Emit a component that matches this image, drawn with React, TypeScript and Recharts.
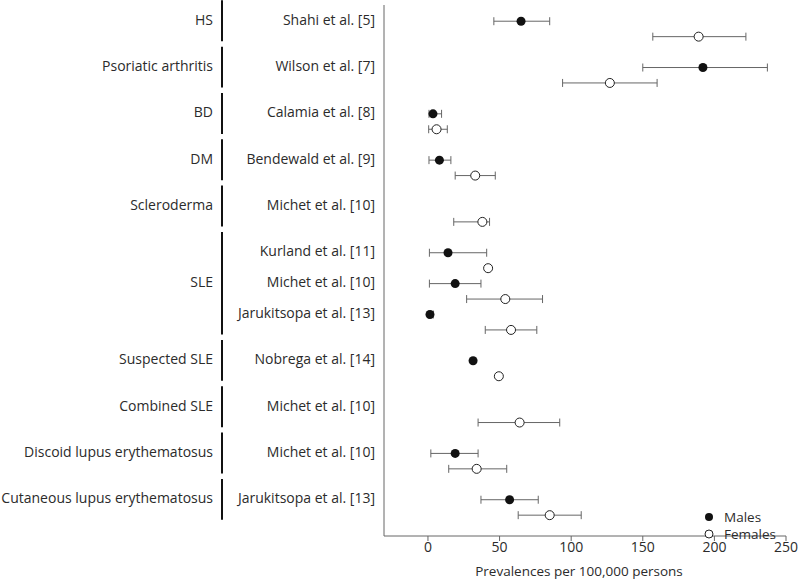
import React from "react";
import { ScatterChart, Scatter, XAxis, YAxis, ErrorBar } from "recharts";

// one entry per study (male row first, female row just below)
const categories = [
  "HS",
  "Psoriatic arthritis",
  "BD",
  "DM",
  "Scleroderma",
  "SLE",
  "SLE",
  "SLE",
  "Suspected SLE",
  "Combined SLE",
  "Discoid lupus erythematosus",
  "Cutaneous lupus erythematosus",
];
const studies = [
  "Shahi et al. [5]",
  "Wilson et al. [7]",
  "Calamia et al. [8]",
  "Bendewald et al. [9]",
  "Michet et al. [10]",
  "Kurland et al. [11]",
  "Michet et al. [10]",
  "Jarukitsopa et al. [13]",
  "Nobrega et al. [14]",
  "Michet et al. [10]",
  "Michet et al. [10]",
  "Jarukitsopa et al. [13]",
];
const maleRows = [0, 3, 6, 9, 12, 15, 17, 19, 22, 25, 28, 31];

const maleValues = [65, 192, 3.5, 8, null, 14, 19, 1.4, 31.5, null, 19, 57];
const maleLow = [46, 150, 0.7, 0.7, null, 1, 1, 0.3, null, null, 2, 37];
const maleHigh = [85, 237, 9.5, 16, null, 41, 37, 3.7, null, null, 35, 77];

const femaleValues = [189, 127, 6, 33, 38, 42, 54, 58, 49.5, 64, 34, 85];
const femaleLow = [157, 94, 0.5, 19, 18, null, 27, 40, null, 35, 14.5, 63];
const femaleHigh = [222, 160, 13.5, 47, 43, null, 80, 76, null, 92, 55, 107];

const xTicks = [0, 50, 100, 150, 200, 250];

const ROW_PX = 531 / 34.4;
const TEXT = "#2b2b2b";
const AXIS = "#666";
const FONT = "'Open Sans', sans-serif";

const build = (vals: (number | null)[], lows: (number | null)[], highs: (number | null)[], shift: number) =>
  vals
    .map((v, i) =>
      v == null
        ? null
        : {
            x: v,
            y: maleRows[i] + shift,
            err: lows[i] != null && highs[i] != null ? [v - (lows[i] as number), (highs[i] as number) - v] : undefined,
          }
    )
    .filter((d) => d != null);

const maleData = build(maleValues, maleLow, maleHigh, 0);
const femaleData = build(femaleValues, femaleLow, femaleHigh, 1);

const StudyTick = (props: any) => {
  const { y, payload } = props;
  const i = maleRows.indexOf(payload.value);
  if (i < 0) return null;
  const cat = categories[i];
  const first = categories.indexOf(cat);
  const last = categories.lastIndexOf(cat);
  const mid = Math.floor((first + last) / 2);
  const top = y - 1.35 * ROW_PX;
  const bottom = y + (maleRows[last] + 1 - maleRows[i] + 0.3) * ROW_PX;
  return (
    <g fontFamily={FONT} fontSize={14} fill={TEXT}>
      <text x={375} y={y - 2} textAnchor="end" dominantBaseline="central">
        {studies[i]}
      </text>
      {i === mid && (
        <text x={213} y={y - 2} textAnchor="end" dominantBaseline="central">
          {cat}
        </text>
      )}
      {i === first && <line x1={222} x2={222} y1={top} y2={bottom} stroke="#111" strokeWidth={2} />}
    </g>
  );
};

const MaleDot = (p: any) => <circle cx={p.cx} cy={p.cy} r={4.5} fill="#111" />;
const FemaleDot = (p: any) => <circle cx={p.cx} cy={p.cy} r={4.5} fill="#fff" stroke="#222" strokeWidth={1} />;

const legendRow = { display: "flex", alignItems: "center", height: 17, whiteSpace: "nowrap" } as const;

export default function App() {
  return (
    <div style={{ position: "absolute", left: 0, top: 0, width: 800, height: 582 }}>
      <ScatterChart width={800} height={582} margin={{ top: 5, right: 14, bottom: 0, left: 0 }}>
        <XAxis
          type="number"
          dataKey="x"
          domain={[-30.7, 250]}
          ticks={xTicks}
          allowDataOverflow
          height={46}
          tickSize={5}
          tickMargin={1}
          stroke={AXIS}
          tick={{ fill: TEXT, fontSize: 14, fontFamily: FONT }}
          label={{
            value: "Prevalences per 100,000 persons",
            position: "insideBottom",
            offset: 6,
            dx: -6,
            fill: TEXT,
            fontSize: 13.5,
            fontFamily: FONT,
          }}
        />
        <YAxis
          type="number"
          dataKey="y"
          reversed
          domain={[-1.05, 33.35]}
          allowDataOverflow
          ticks={maleRows}
          interval={0}
          width={384}
          tickLine={false}
          stroke={AXIS}
          tick={<StudyTick />}
        />
        <Scatter data={maleData} shape={<MaleDot />} isAnimationActive={false} legendType="none">
          <ErrorBar dataKey="err" direction="x" width={4} stroke={AXIS} strokeWidth={1} />
        </Scatter>
        <Scatter data={femaleData} shape={<FemaleDot />} isAnimationActive={false} legendType="none">
          <ErrorBar dataKey="err" direction="x" width={4} stroke={AXIS} strokeWidth={1} />
        </Scatter>
      </ScatterChart>
      <div
        style={{
          position: "absolute",
          left: 704,
          top: 508,
          fontFamily: FONT,
          fontSize: 13.5,
          color: TEXT,
          lineHeight: "16px",
        }}
      >
        <div style={legendRow}>
          <svg width={10} height={10} style={{ marginRight: 10 }}>
            <circle cx={5} cy={5} r={4} fill="#111" />
          </svg>
          <span>Males</span>
        </div>
        <div style={legendRow}>
          <svg width={10} height={10} style={{ marginRight: 10 }}>
            <circle cx={5} cy={5} r={4} fill="#fff" stroke="#222" />
          </svg>
          <span>Females</span>
        </div>
      </div>
    </div>
  );
}
